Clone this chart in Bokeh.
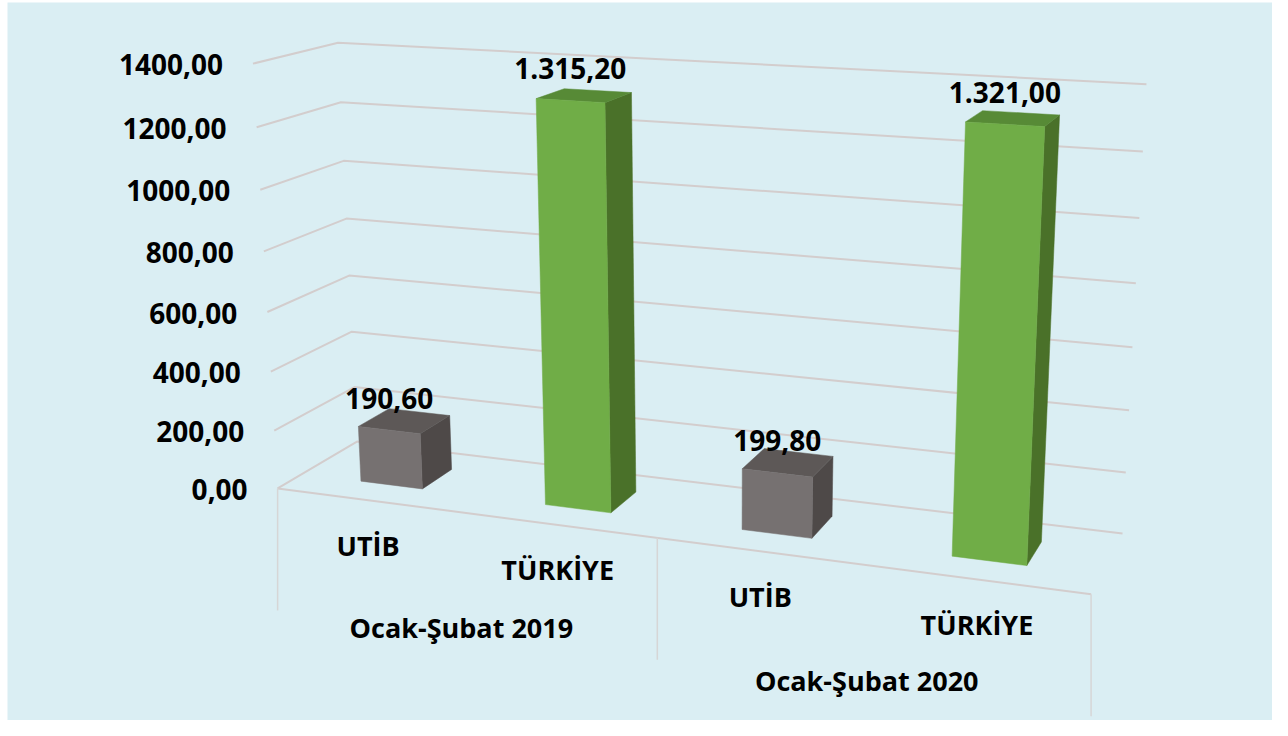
import numpy as np
from bokeh.plotting import figure
from bokeh.models import Range1d
from bokeh.embed import file_html
from bokeh.resources import INLINE
from bokeh.core.properties import value

# ---------------- data ----------------
groups = ["Ocak-Şubat 2019", "Ocak-Şubat 2020"]
series_names = ["UTİB", "TÜRKİYE"]
values_2019 = [190.60, 1315.20]
values_2020 = [199.80, 1321.00]
y_ticks = [0, 200, 400, 600, 800, 1000, 1200, 1400]
y_max = 1400

# ---------------- styles ----------------
BG = "#DAEEF3"
front_colors = ["#767171", "#70AD47"]
side_colors = ["#4E4948", "#4A7129"]
top_colors = ["#5D5857", "#578A36"]
GRID = "#D3CDCD"
DIVIDER = "#D6D6D6"
FONT = value("Open Sans")

# ---------------- page / frame ----------------
W, H = 1272, 720
PANEL = (7, 2, 1274, 736)   # chart area (left, top, right, bottom) in px

# perspective camera: world (category units, value/y_max, depth) -> screen px
cam_world = [(0, 0, 0), (2, 0, 0), (4, 0, 0), (0, 0, 1), (4, 0, 1),
             (0, 1, 0), (0, 1, 1), (4, 1, 1)]
cam_screen = [(277, 488), (656, 538), (1091, 593), (357, 441), (1122, 533),
              (253, 63), (337, 42), (1146, 84)]


def fit_camera(world, screen):
    A, b = [], []
    for (X, Y, Z), (u, v) in zip(world, screen):
        A.append([X, Y, Z, 1, 0, 0, 0, 0, -u * X, -u * Y, -u * Z]); b.append(u)
        A.append([0, 0, 0, 0, X, Y, Z, 1, -v * X, -v * Y, -v * Z]); b.append(v)
    prm, *_ = np.linalg.lstsq(np.array(A, float), np.array(b, float), rcond=None)
    return np.append(prm, 1.0).reshape(3, 4)


M = fit_camera(cam_world, cam_screen)


def proj(X, Y, Z):
    h = M @ np.array([X, Y, Z, 1.0])
    return float(h[0] / h[2]), float(h[1] / h[2])


def proj_poly(pts):
    xy = [proj(*p) for p in pts]
    return [q[0] for q in xy], [q[1] for q in xy]


p = figure(width=W, height=H,
           x_range=Range1d(0, W), y_range=Range1d(H, 0),
           output_backend="svg", toolbar_location=None, min_border=0,
           x_axis_type=None, y_axis_type=None,
           background_fill_color="white", border_fill_color="white",
           outline_line_color=None)
p.grid.visible = False

p.quad(left=[PANEL[0]], right=[PANEL[2]], top=[PANEL[1]], bottom=[PANEL[3]],
       fill_color=BG, line_color=None)

n_cat = len(groups) * len(series_names)

# gridlines (side wall + back wall)
for t in y_ticks:
    yy = t / y_max
    xs, ys = proj_poly([(0, yy, 0), (0, yy, 1), (n_cat, yy, 1)])
    p.line(xs, ys, line_color=GRID, line_width=2)

# floor front edge (category axis)
xs, ys = proj_poly([(0, 0, 0), (n_cat, 0, 0)])
p.line(xs, ys, line_color=GRID, line_width=2)

# group dividers
for g in range(len(groups) + 1):
    x0, y0 = proj(g * len(series_names), 0, 0)
    p.line([x0, x0], [y0, y0 + 122], line_color=DIVIDER, line_width=1.5)

# y axis labels
ax_x, ax_y, ax_t = [], [], []
for t in y_ticks:
    x0, y0 = proj(0, t / y_max, 0)
    ax_x.append(x0 - 30); ax_y.append(y0 + 1)
    ax_t.append(f"{t:.2f}".replace(".", ","))
p.text(ax_x, ax_y, text=ax_t, text_font=FONT, text_font_style="bold",
       text_font_size="28px", text_align="right", text_baseline="middle",
       text_color="#000000")

# bars
BW, Z0, Z1 = 0.34, 0.3, 0.7
all_vals = [values_2019, values_2020]
lab_x, lab_y, lab_t = [], [], []
cat_x, cat_y, cat_t = [], [], []
for gi, vals in enumerate(all_vals):
    for si, v in enumerate(vals):
        k = gi * len(series_names) + si
        xc = k + 0.5
        xa, xb = xc - BW / 2, xc + BW / 2
        h = v / y_max
        top = proj_poly([(xa, h, Z0), (xb, h, Z0), (xb, h, Z1), (xa, h, Z1)])
        side = proj_poly([(xb, 0, Z0), (xb, 0, Z1), (xb, h, Z1), (xb, h, Z0)])
        front = proj_poly([(xa, 0, Z0), (xb, 0, Z0), (xb, h, Z0), (xa, h, Z0)])
        p.patch(*side, fill_color=side_colors[si], line_color=side_colors[si], line_width=0.5)
        p.patch(*top, fill_color=top_colors[si], line_color=top_colors[si], line_width=0.5)
        p.patch(*front, fill_color=front_colors[si], line_color=front_colors[si], line_width=0.5)
        lx, ly = proj(xc, h, Z0)
        lab_x.append(lx); lab_y.append(ly - 32)
        s = f"{v:,.2f}".replace(",", "X").replace(".", ",").replace("X", ".")
        lab_t.append(s)
        cx, cy = proj(xc, 0, 0)
        cat_x.append(cx); cat_y.append(cy + 45); cat_t.append(series_names[si])

p.text(lab_x, lab_y, text=lab_t, text_font=FONT, text_font_style="bold",
       text_font_size="28px", text_align="center", text_baseline="middle",
       text_color="#000000")
p.text(cat_x, cat_y, text=cat_t, text_font=FONT, text_font_style="bold",
       text_font_size="27px", text_align="center", text_baseline="middle",
       text_color="#000000")

gx, gy = [], []
for gi in range(len(groups)):
    x0, y0 = proj(gi * len(series_names) + len(series_names) / 2, 0, 0)
    gx.append(x0); gy.append(y0 + 115)
p.text(gx, gy, text=groups, text_font=FONT, text_font_style="bold",
       text_font_size="27px", text_align="center", text_baseline="middle",
       text_color="#000000")

open("out.html", "w").write(file_html(p, INLINE))
